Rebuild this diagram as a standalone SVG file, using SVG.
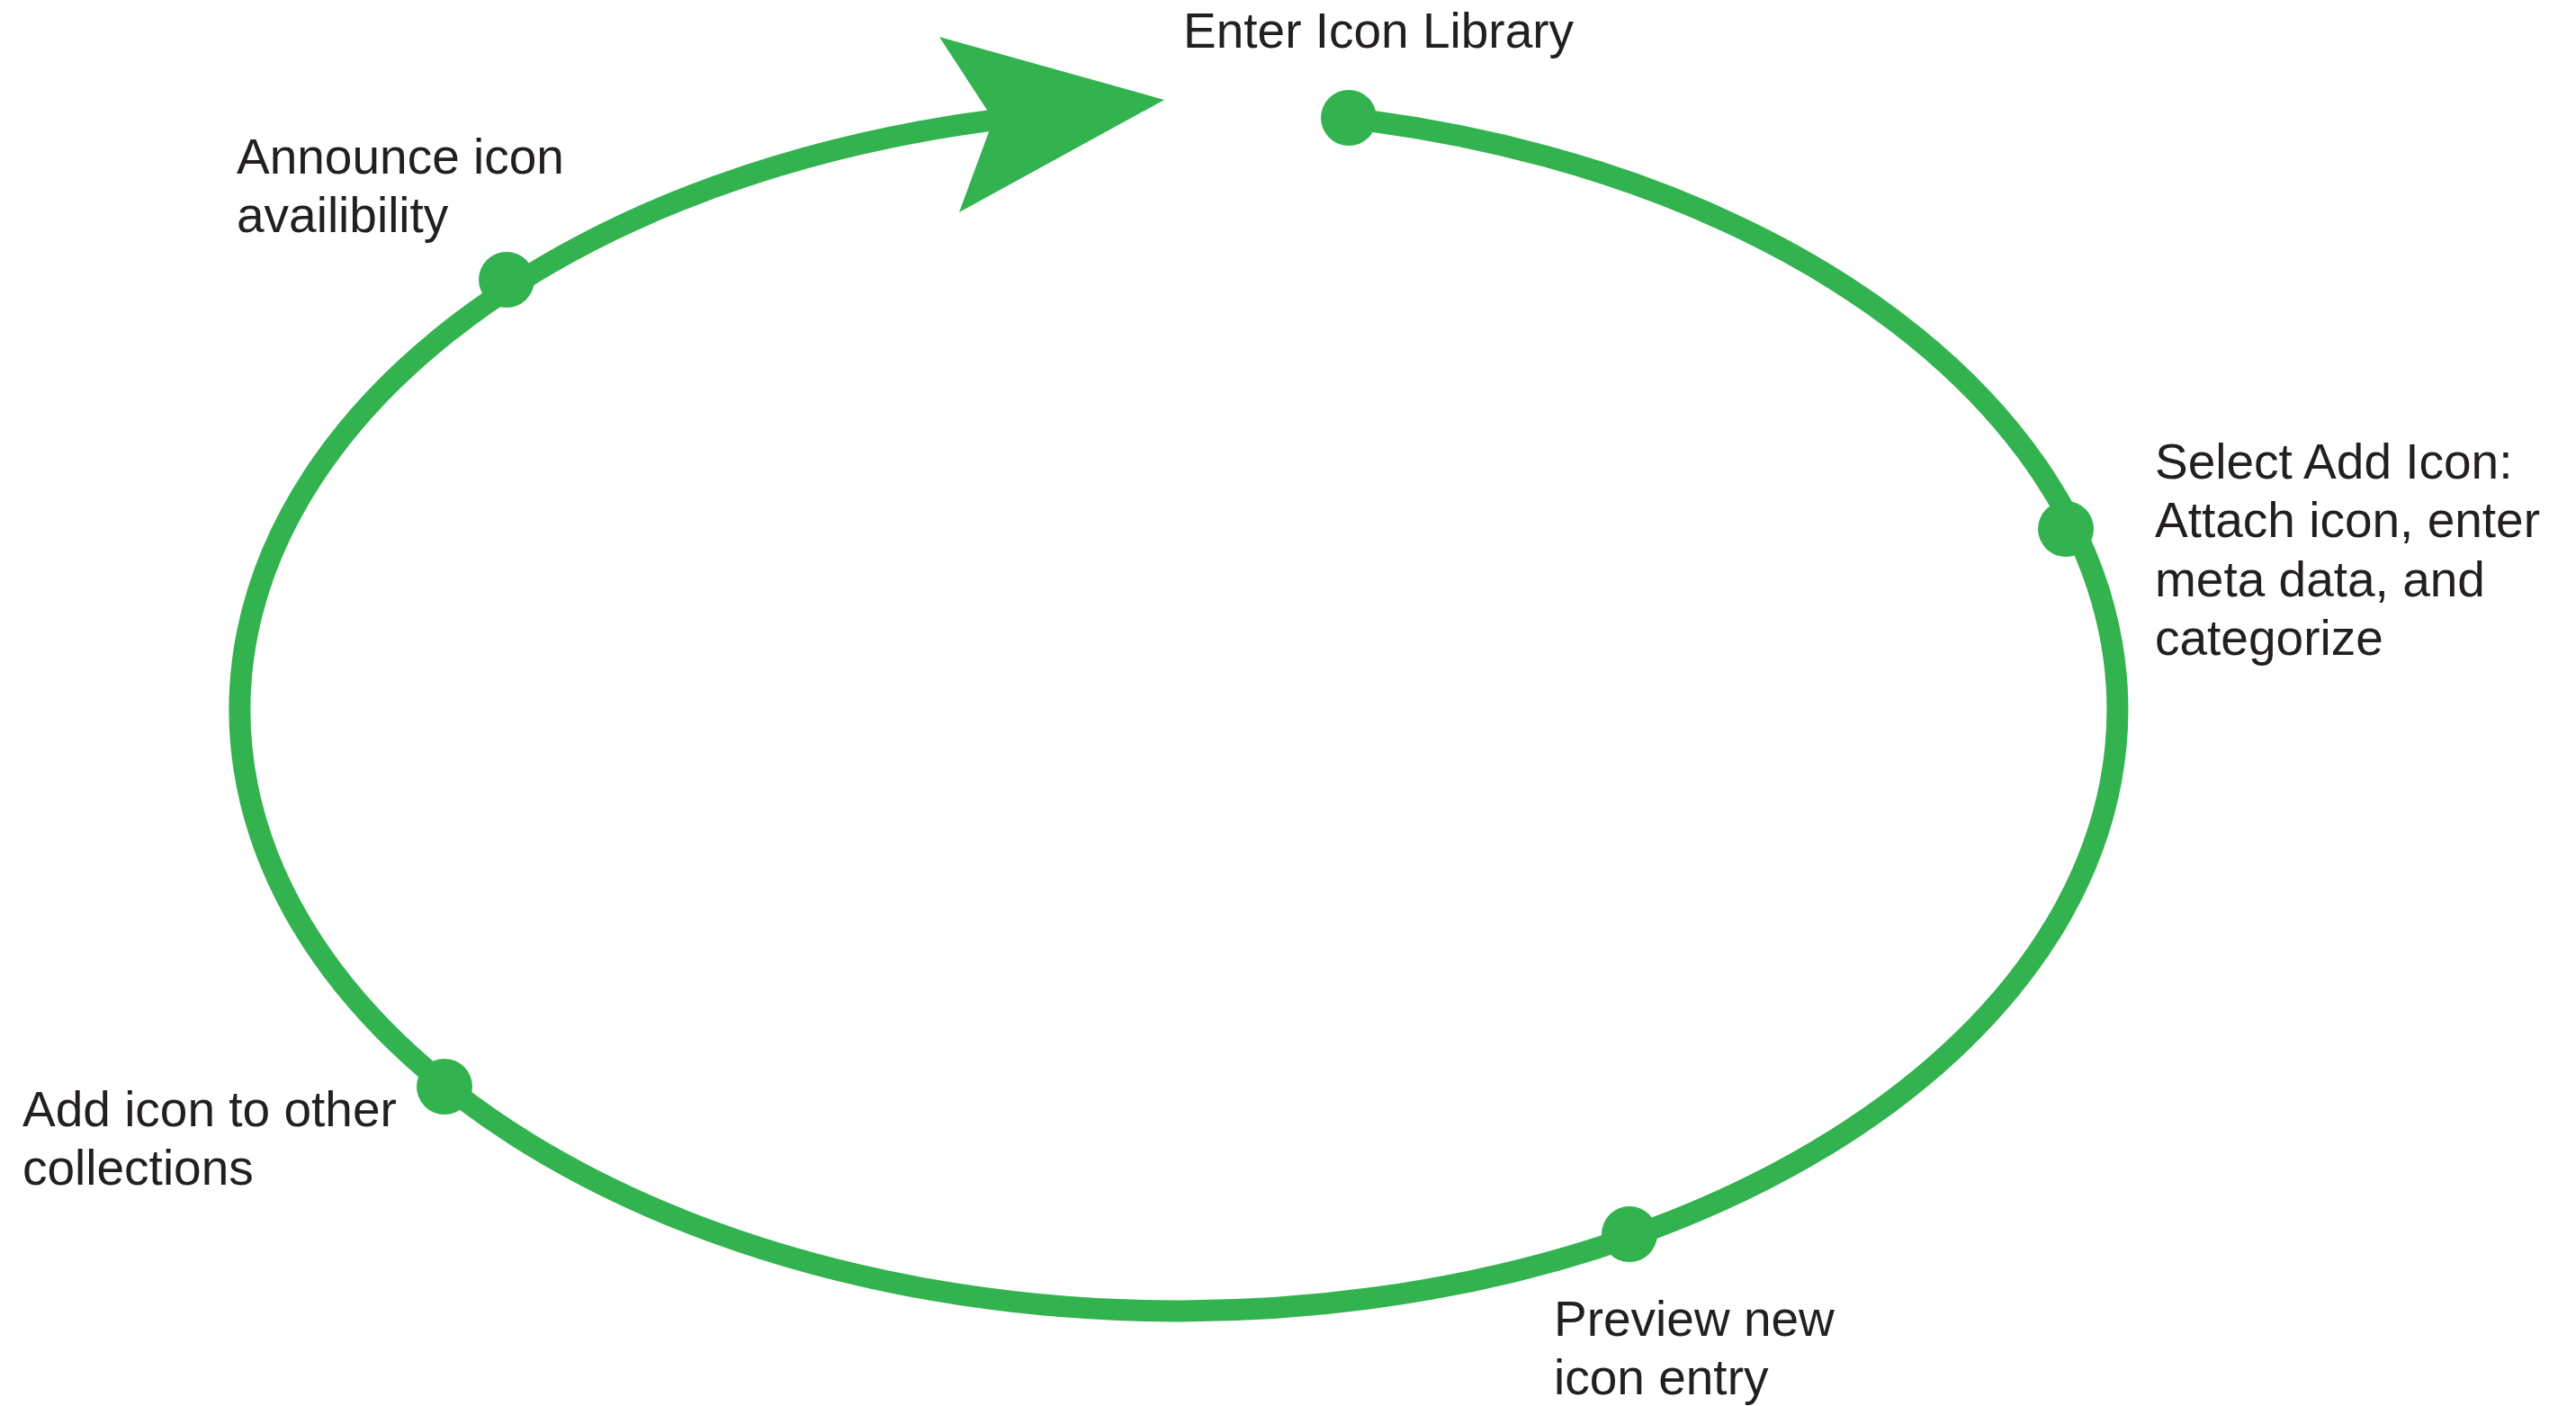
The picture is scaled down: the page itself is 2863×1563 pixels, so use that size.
<svg xmlns="http://www.w3.org/2000/svg" width="2863" height="1563" viewBox="0 0 2863 1563">
<style>
.loop{fill:none;stroke:#33b34f;stroke-width:24}
.head{fill:#33b34f}
.dot{fill:#33b34f}
.lbl{font-family:"Liberation Sans",Arial,sans-serif;font-size:55px;fill:#231f20}
</style>
<rect width="2863" height="1563" fill="#ffffff"/>
<g id="connectors">
<path class="loop" d="M 1499 131.5 A 1043.5 668.5 0 1 1 1115 132.2"/>
<polygon class="head" points="1044,41 1294,111 1066,236 1104,133"/>
</g>
<g id="node-enter">
<circle class="dot" cx="1499" cy="131" r="31"/>
<text class="lbl" x="1315" y="53">Enter Icon Library</text>
</g>
<g id="node-select">
<circle class="dot" cx="2296" cy="588" r="31"/>
<text class="lbl" x="2395" y="532">Select Add Icon:</text>
<text class="lbl" x="2395" y="597">Attach icon, enter</text>
<text class="lbl" x="2395" y="663">meta data, and</text>
<text class="lbl" x="2395" y="728">categorize</text>
</g>
<g id="node-preview">
<circle class="dot" cx="1811" cy="1372" r="31"/>
<text class="lbl" x="1727" y="1485">Preview new</text>
<text class="lbl" x="1727" y="1550">icon entry</text>
</g>
<g id="node-add">
<circle class="dot" cx="494" cy="1208" r="31"/>
<text class="lbl" x="25" y="1252">Add icon to other</text>
<text class="lbl" x="25" y="1317">collections</text>
</g>
<g id="node-announce">
<circle class="dot" cx="563" cy="311" r="31"/>
<text class="lbl" x="263" y="193">Announce icon</text>
<text class="lbl" x="263" y="258">availibility</text>
</g>
</svg>
